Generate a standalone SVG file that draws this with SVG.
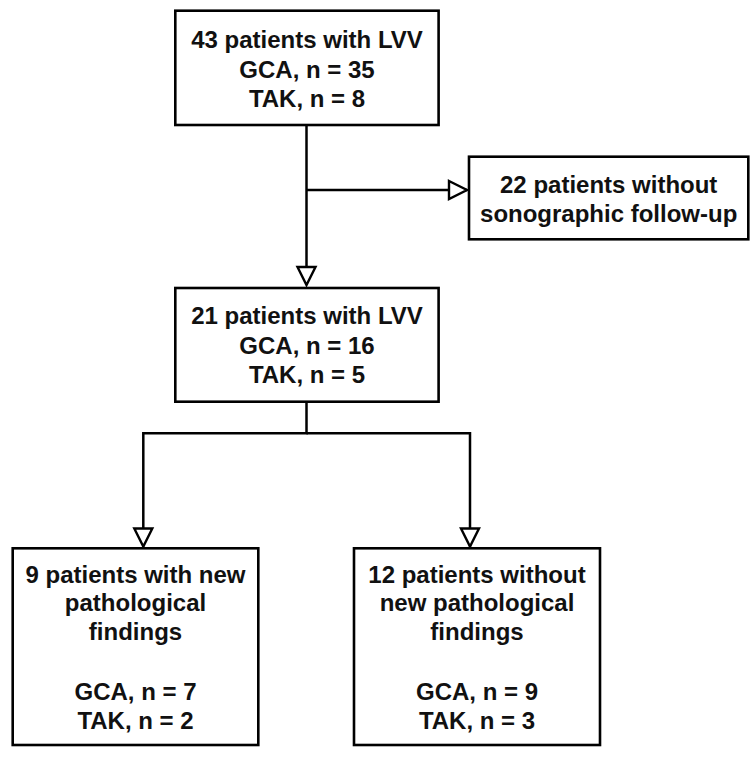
<svg xmlns="http://www.w3.org/2000/svg" width="756" height="758" viewBox="0 0 756 758">
  <style>
    .box { fill: #ffffff; stroke: #000000; stroke-width: 2.6; }
    .lbl { font-family: "Liberation Sans", Arial, sans-serif; font-weight: bold; font-size: 24px; fill: #111111; text-anchor: middle; }
    .conn { fill: none; stroke: #000000; stroke-width: 2.5; }
  </style>
  <defs>
    <marker id="arrow" viewBox="-2 -2 22 22" refX="18" refY="9" markerWidth="22" markerHeight="22" markerUnits="userSpaceOnUse" orient="auto" overflow="visible">
      <path d="M0,0 L18,9 L0,18 Z" fill="#ffffff" stroke="#000000" stroke-width="2.4" stroke-linejoin="miter"/>
    </marker>
  </defs>
  <rect width="756" height="758" fill="#ffffff"/>

  <g id="connectors">
    <path class="conn" d="M306.5,125 L306.5,285" marker-end="url(#arrow)"/>
    <path class="conn" d="M306.5,190 L467,190" marker-end="url(#arrow)"/>
    <path class="conn" d="M306.5,401.7 L306.5,433.3 L143.3,433.3 L143.3,546.5" marker-end="url(#arrow)"/>
    <path class="conn" d="M306.5,433.3 L470,433.3 L470,546.5" marker-end="url(#arrow)"/>
  </g>

  <g id="node-top">
    <rect class="box" x="175.3" y="10.7" width="263.3" height="114.3"/>
    <text class="lbl" x="307" y="48.2">43 patients with LVV</text>
    <text class="lbl" x="307" y="77.7">GCA, n = 35</text>
    <text class="lbl" x="307" y="107.2">TAK, n = 8</text>
  </g>

  <g id="node-excluded">
    <rect class="box" x="469" y="156.7" width="279.3" height="82.6"/>
    <text class="lbl" x="608.7" y="193.3">22 patients without</text>
    <text class="lbl" x="608.7" y="222.3">sonographic follow-up</text>
  </g>

  <g id="node-mid">
    <rect class="box" x="175.3" y="288" width="263.3" height="113.7"/>
    <text class="lbl" x="307" y="324">21 patients with LVV</text>
    <text class="lbl" x="307" y="353.5">GCA, n = 16</text>
    <text class="lbl" x="307" y="383">TAK, n = 5</text>
  </g>

  <g id="node-left">
    <rect class="box" x="12.7" y="548.3" width="245.6" height="196.7"/>
    <text class="lbl" x="135.5" y="582.7">9 patients with new</text>
    <text class="lbl" x="135.5" y="611.2">pathological</text>
    <text class="lbl" x="135.5" y="640">findings</text>
    <text class="lbl" x="135.5" y="699.5">GCA, n = 7</text>
    <text class="lbl" x="135.5" y="728.5">TAK, n = 2</text>
  </g>

  <g id="node-right">
    <rect class="box" x="354" y="548.3" width="246" height="196.7"/>
    <text class="lbl" x="477" y="582.7">12 patients without</text>
    <text class="lbl" x="477" y="611.2">new pathological</text>
    <text class="lbl" x="477" y="640">findings</text>
    <text class="lbl" x="477" y="699.5">GCA, n = 9</text>
    <text class="lbl" x="477" y="728.5">TAK, n = 3</text>
  </g>
</svg>
